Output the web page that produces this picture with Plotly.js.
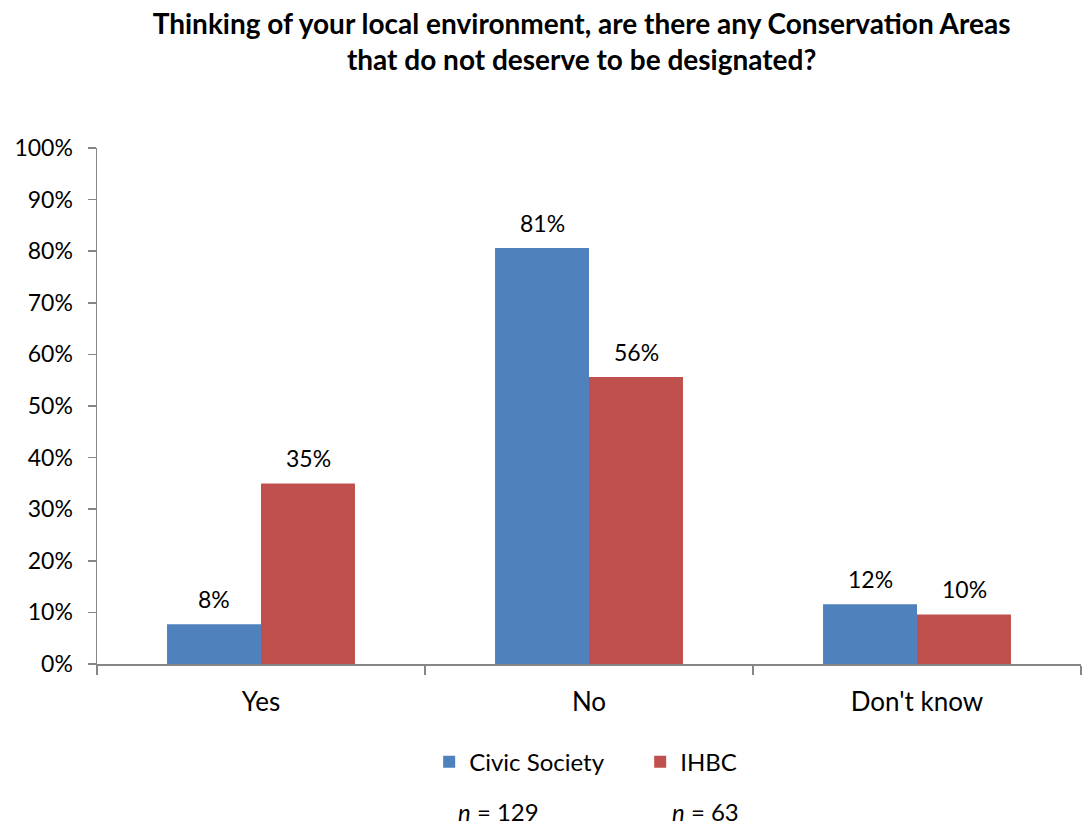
<!DOCTYPE html>
<html>
<head>
<meta charset="utf-8">
<script src="https://cdn.plot.ly/plotly-3.0.1.min.js"></script>
<style>html,body{margin:0;padding:0;background:#fff;}#chart{width:1083px;height:825px;}</style>
</head>
<body>
<div id="chart"></div>
<script>
const categories = ["Yes", "No", "Don't know"];
const seriesNames = ["Civic Society", "IHBC"];
const civicSociety = [0.077, 0.806, 0.116];
const ihbc = [0.35, 0.556, 0.096];
const sampleSizes = ["129", "63"];
const colors = ["#4F81BD", "#C0504D"];
const yTickVals = [0,0.1,0.2,0.3,0.4,0.5,0.6,0.7,0.8,0.9,1.0];

const FONT = "Lato, 'Open Sans', sans-serif";
const seriesData = [civicSociety, ihbc];

const traces = seriesData.map((vals, i) => ({
  type: "bar",
  name: seriesNames[i],
  x: categories,
  y: vals,
  marker: {color: colors[i], line: {width: 0}},
  hoverinfo: "skip"
}));

const annotations = [];
seriesData.forEach((vals, i) => {
  vals.forEach((v, j) => {
    annotations.push({
      x: categories[j], y: v, xref: "x", yref: "y",
      text: Math.round(v * 100) + "%",
      showarrow: false, yanchor: "bottom",
      xshift: (i === 0 ? -47 : 47), yshift: 9,
      font: {family: FONT, size: 23, color: "#000"}
    });
  });
});
sampleSizes.forEach((n, i) => {
  annotations.push({
    x: i === 0 ? 0.408 : 0.618, y: -0.285, xref: "paper", yref: "paper",
    text: "<i>n</i> = " + n, showarrow: false, xanchor: "center", yanchor: "middle",
    font: {family: FONT, size: 24, color: "#000"}
  });
});

const layout = {
  width: 1083, height: 825,
  margin: {l: 97, r: 2, t: 148, b: 161},
  paper_bgcolor: "#fff", plot_bgcolor: "#fff",
  font: {family: FONT, color: "#000"},
  title: {
    text: "<b>Thinking of your local environment, are there any Conservation Areas<br>that do not deserve to be designated?</b>",
    x: 0.537, xanchor: "center", y: 0.959, yanchor: "top",
    font: {family: FONT, size: 28, color: "#000"}
  },
  barmode: "group",
  bargap: 0.427,
  bargroupgap: 0,
  showlegend: true,
  legend: {
    orientation: "h", x: 0.552, xanchor: "center", y: -0.19, yanchor: "middle",
    font: {family: FONT, size: 24, color: "#000"},
    itemwidth: 30, traceorder: "normal", entrywidth: 166
  },
  xaxis: {
    type: "category",
    showline: true, linecolor: "#868686", linewidth: 1.5,
    ticks: "outside", ticklen: 9, tickcolor: "#868686", tickwidth: 1.5,
    tickson: "boundaries",
    showgrid: false, zeroline: false,
    tickfont: {family: FONT, size: 26, color: "#000"},
    ticklabelstandoff: 14,
    fixedrange: true
  },
  yaxis: {
    range: [0, 1], tickvals: yTickVals, tickformat: ".0%",
    showline: true, linecolor: "#868686", linewidth: 1.5,
    ticks: "outside", ticklen: 8, tickcolor: "#868686", tickwidth: 1.5,
    showgrid: false, zeroline: false,
    tickfont: {family: FONT, size: 23, color: "#000"},
    ticklabelstandoff: 10,
    fixedrange: true
  },
  annotations: annotations
};

Plotly.newPlot("chart", traces, layout, {displayModeBar: false, staticPlot: true});
</script>
</body>
</html>
